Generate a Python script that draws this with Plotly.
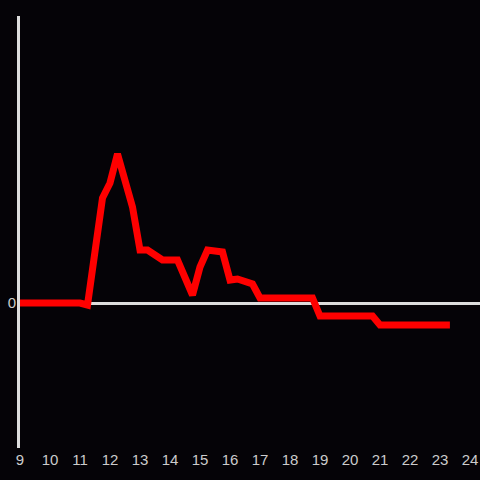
import plotly.graph_objects as go

# hours of the day (decimal) and the value at each
hours = [9.0, 11.0, 11.25, 11.75, 12.0, 12.25, 12.75, 13.0, 13.25, 13.75,
         14.25, 14.75, 15.0, 15.25, 15.75, 16.0, 16.25, 16.75, 17.0, 18.75,
         19.0, 20.75, 21.0, 23.33]
values = [0, 0, -2, 105, 120, 149, 96, 53, 53, 43,
          43, 8, 36, 53, 51, 23, 24, 19, 5, 5,
          -13, -13, -22, -22]

x_ticks = list(range(9, 25))

BG = "#050307"
AXIS = "#dddddd"
TEXT = "#cccccc"

fig = go.Figure(go.Scatter(
    x=hours, y=values, mode="lines",
    line=dict(color="#ff0000", width=7),
    hoverinfo="skip",
))

fig.update_layout(
    width=480, height=480,
    margin=dict(l=20, r=0, t=16, b=32, autoexpand=False),
    paper_bgcolor=BG, plot_bgcolor=BG,
    showlegend=False,
    font=dict(family="Liberation Sans, Arial, sans-serif", size=15, color=TEXT),
    xaxis=dict(
        range=[9, 9 + 460 / 30], tickvals=x_ticks, ticktext=[str(t) for t in x_ticks],
        showgrid=False, zeroline=False, showline=False, ticks="",
        automargin=False, ticklabelstandoff=1,
    ),
    yaxis=dict(
        range=[-145, 287], tickvals=[0], ticktext=["0"],
        showgrid=False, zeroline=True, zerolinecolor=AXIS, zerolinewidth=3,
        showline=True, linecolor=AXIS, linewidth=3, ticks="",
        automargin=False, ticklabelstandoff=-2,
    ),
)

# page body has a default margin; drop it so the chart fills the window
fig.write_html("out.html", config={"displayModeBar": False},
               post_script="document.body.style.margin='0';")
